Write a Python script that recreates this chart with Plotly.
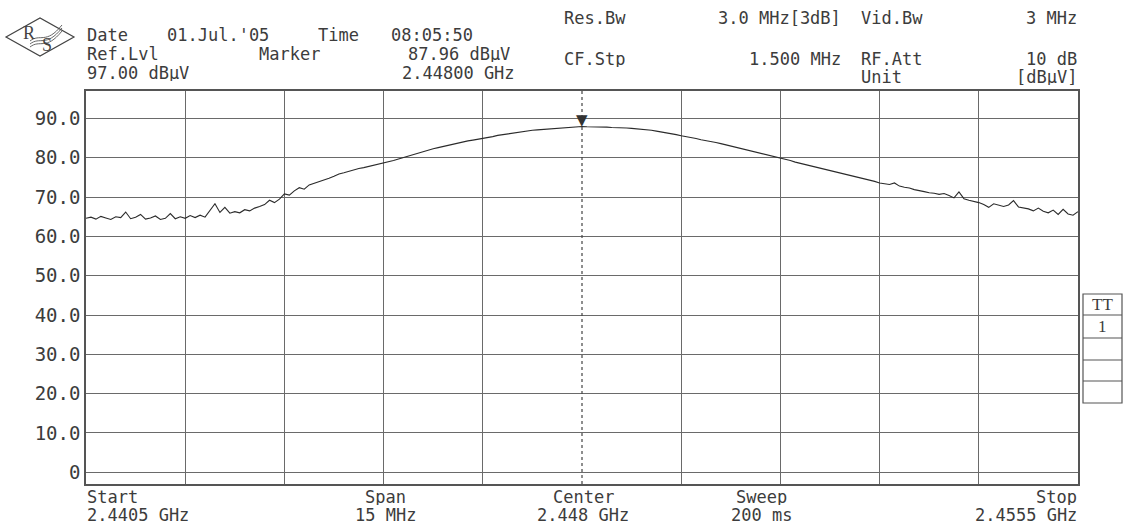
import numpy as np
import plotly.graph_objects as go

# ---------------- data ----------------
start_ghz = 2.4405
stop_ghz = 2.4555
marker_ghz = 2.448
marker_level = 87.96
ref_level = 97.0
bottom_level = -3.0
div_ghz = 0.0015
level_ticks = [0, 10, 20, 30, 40, 50, 60, 70, 80, 90]
level_ticktext = ["0", "10.0", "20.0", "30.0", "40.0", "50.0", "60.0", "70.0", "80.0", "90.0"]

levels = [
    64.6, 64.9, 64.4, 65.1, 64.7, 64.3, 65.0, 64.8, 66.2, 64.5,
    64.9, 65.6, 64.4, 64.7, 65.2, 64.3, 64.6, 65.8, 64.5, 65.0,
    64.6, 65.3, 64.8, 65.4, 64.9, 66.7, 68.3, 66.1, 67.4, 65.9,
    66.3, 66.0, 66.8, 66.5, 67.2, 67.6, 68.1, 69.2, 68.6, 69.5,
    70.8, 70.5, 71.6, 72.4, 72.0, 73.1, 73.5, 73.9, 74.3, 74.8,
    75.3, 75.9, 76.2, 76.6, 76.9, 77.3, 77.5, 77.8, 78.1, 78.3,
    78.6, 78.9, 79.3, 79.7, 80.1, 80.5, 80.9, 81.3, 81.6, 82.0,
    82.3, 82.6, 82.9, 83.2, 83.5, 83.8, 84.0, 84.3, 84.5, 84.7,
    84.9, 85.2, 85.4, 85.7, 85.9, 86.1, 86.3, 86.5, 86.7, 86.8,
    87.0, 87.1, 87.2, 87.3, 87.5, 87.6, 87.7, 87.8, 87.9, 87.9,
    87.96,
    87.9, 87.9, 87.9, 87.8, 87.8, 87.7, 87.7, 87.6, 87.6, 87.5,
    87.4, 87.3, 87.1, 87.0, 86.8, 86.6, 86.4, 86.2, 85.9, 85.6,
    85.4, 85.1, 84.9, 84.6, 84.4, 84.1, 83.9, 83.6, 83.3, 83.0,
    82.7, 82.4, 82.1, 81.8, 81.5, 81.2, 80.9, 80.6, 80.3, 80.0,
    79.6, 79.3, 78.9, 78.6, 78.3, 77.9, 77.7, 77.3, 77.1, 76.8,
    76.4, 76.1, 75.8, 75.5, 75.3, 74.9, 74.6, 74.3, 74.0, 73.6,
    73.4, 73.2, 73.6, 72.8, 72.5, 72.3, 71.9, 71.7, 71.4, 71.1,
    71.0, 70.7, 70.9, 70.4, 69.8, 71.3, 69.6, 69.2, 68.9, 68.6,
    68.1, 67.4, 68.3, 67.9, 67.6, 68.0, 69.1, 67.5, 67.3, 67.0,
    66.5, 67.2, 66.4, 66.0, 66.7, 65.6, 66.9, 65.7, 65.4, 66.3,
]
freqs = np.linspace(start_ghz, stop_ghz, len(levels))

# ---------------- layout helpers ----------------
W, H = 1125, 528
L, R, T, B = 86, 1078, 91, 484
MONO = "DejaVu Sans Mono"
SERIF = "Liberation Serif"
TXT = "#3c3c3c"
GRID = "#6a6a6a"


def px(x):
    return (x - L) / (R - L)


def py(y):
    return (B - y) / (B - T)


fig = go.Figure()
fig.add_trace(go.Scatter(x=freqs, y=levels, mode="lines",
                         line=dict(color="#2b2b2b", width=1.1),
                         hoverinfo="skip", showlegend=False))

grid_vals = [start_ghz + k * div_ghz for k in (1, 2, 3, 4, 6, 7, 8, 9)]

fig.update_layout(
    width=W, height=H,
    margin=dict(l=L, r=W - R, t=T, b=H - B),
    paper_bgcolor="white", plot_bgcolor="white",
    showlegend=False,
    xaxis=dict(range=[start_ghz, stop_ghz], tickvals=grid_vals, showticklabels=False,
               ticks="", showgrid=True, gridcolor=GRID, gridwidth=1.3, zeroline=False,
               showline=True, mirror=True, linecolor="#555555", linewidth=1.5,
               fixedrange=True),
    yaxis=dict(range=[bottom_level, ref_level], tickvals=level_ticks, ticktext=level_ticktext,
               ticks="", showgrid=True, gridcolor=GRID, gridwidth=1.3, zeroline=False,
               showline=True, mirror=True, linecolor="#555555", linewidth=1.5,
               tickfont=dict(family=MONO, size=19, color=TXT), ticklabelstandoff=0,
               fixedrange=True),
)

shapes = []
# marker line (dotted)
shapes.append(dict(type="line", xref="x", yref="paper", x0=marker_ghz, x1=marker_ghz,
                   y0=0, y1=1, line=dict(color="#444444", width=1.2, dash="dot")))

# TT box
bx0, bx1 = 1083, 1122
rows = [294, 315, 338, 360, 381, 403]
shapes.append(dict(type="rect", xref="paper", yref="paper", x0=px(bx0), x1=px(bx1),
                   y0=py(rows[-1]), y1=py(rows[0]), line=dict(color="#555555", width=1.2)))
for r_ in rows[1:-1]:
    shapes.append(dict(type="line", xref="paper", yref="paper", x0=px(bx0), x1=px(bx1),
                       y0=py(r_), y1=py(r_), line=dict(color="#555555", width=1.2)))


# logo diamond
def pth(points):
    return "M " + " L ".join(f"{px(a):.5f},{py(b):.5f}" for a, b in points) + " Z"


shapes.append(dict(type="path", xref="paper", yref="paper",
                   path=pth([(6, 37), (40, 18), (74, 37), (40, 56)]),
                   line=dict(color="#444444", width=1.2)))
for d in (-3, 0, 3):
    p0 = (30, 44 + d); c1 = (40, 36 + d); c2 = (46, 48 + d); p3 = (62, 28 + d)
    path = (f"M {px(p0[0]):.5f},{py(p0[1]):.5f} C {px(c1[0]):.5f},{py(c1[1]):.5f} "
            f"{px(c2[0]):.5f},{py(c2[1]):.5f} {px(p3[0]):.5f},{py(p3[1]):.5f}")
    shapes.append(dict(type="path", xref="paper", yref="paper", path=path,
                       line=dict(color="#555555", width=0.9)))

fig.update_layout(shapes=shapes)

ann = []


def txt(s, x, y, anchor="left", size=17, family=MONO, color=TXT, h=16):
    a = dict(text=s, xref="paper", yref="paper", x=px(x), y=py(y),
             xanchor=anchor, yanchor="middle", showarrow=False, borderpad=0,
             font=dict(family=family, size=size, color=color))
    if h:
        a["height"] = h
    ann.append(a)


# header, left block
txt("Date", 86, 35)
txt("01.Jul.'05", 218, 35, "center")
txt("Time", 338, 35, "center")
txt("08:05:50", 432, 35, "center")
txt("Ref.Lvl", 86, 54)
txt("Marker", 289, 54, "center")
txt(f"{marker_level:.2f} dBµV", 459, 54, "center")
txt(f"{ref_level:.2f} dBµV", 86, 73)
txt(f"{marker_ghz:.5f} GHz", 458, 73, "center")
# header, right block
txt("Res.Bw", 563, 18)
txt("3.0 MHz[3dB]", 842, 18, "right")
txt("Vid.Bw", 860, 18)
txt("3 MHz", 1078, 18, "right")
txt("CF.Stp", 563, 59)
txt("1.500 MHz", 842, 59, "right")
txt("RF.Att", 860, 59)
txt("10 dB", 1078, 59, "right")
txt("Unit", 860, 77)
txt("[dBµV]", 1078, 77, "right")

# footer
txt("Start", 86, 497)
txt(f"{start_ghz:.4f} GHz", 86, 515)
txt("Span", 385, 497, "center")
txt(f"{(stop_ghz - start_ghz) * 1000:.0f} MHz", 385, 515, "center")
txt("Center", 583, 497, "center")
txt(f"{marker_ghz:.3f} GHz", 583, 515, "center")
txt("Sweep", 761, 497, "center")
txt("200 ms", 761, 515, "center")
txt("Stop", 1078, 497, "right")
txt(f"{stop_ghz:.4f} GHz", 1078, 515, "right")

# TT box texts
txt("TT", (bx0 + bx1) / 2, (rows[0] + rows[1]) / 2, "center", 17, SERIF, h=None)
txt("1", (bx0 + bx1) / 2, (rows[1] + rows[2]) / 2, "center", 17, SERIF, h=None)

# logo letters
txt("R", 29, 33, "center", 18, SERIF, "#444444", h=None)
txt("S", 47, 45, "center", 18, SERIF, "#444444", h=None)

# marker triangle
ann.append(dict(text="▼", xref="x", yref="y", x=marker_ghz, y=marker_level,
                xanchor="center", yanchor="bottom", yshift=-4, showarrow=False,
                font=dict(family="DejaVu Sans", size=15, color="#333333")))

fig.update_layout(annotations=ann)
fig.write_html("out.html", config={"displayModeBar": False},
               post_script="document.body.style.margin='0px';document.body.style.padding='0px';")
